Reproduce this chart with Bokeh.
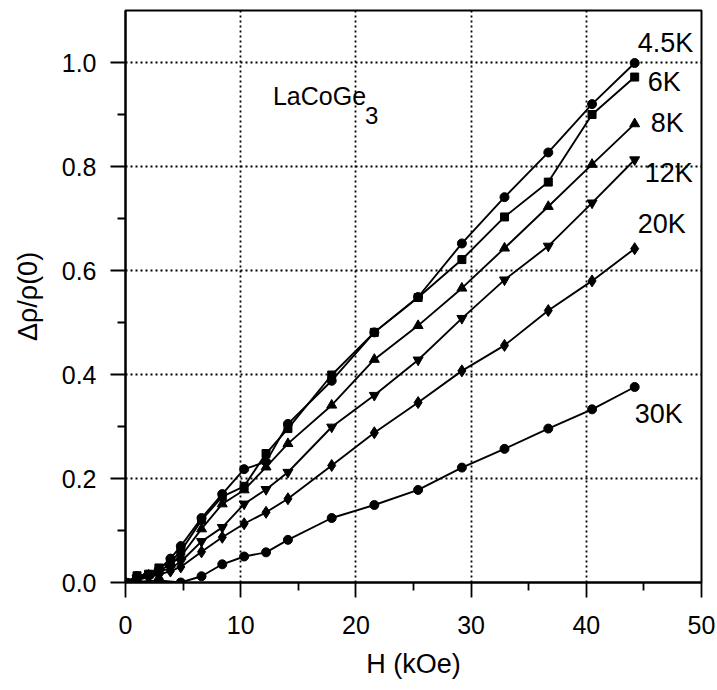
from bokeh.plotting import figure
from bokeh.models import Range1d, Label, FixedTicker, NumeralTickFormatter
from bokeh.embed import file_html
from bokeh.resources import INLINE

# ---- data ----
H = [0, 1.0, 2.0, 2.9, 3.9, 4.8, 6.6, 8.4, 10.3, 12.2, 14.1, 17.9, 21.6, 25.4, 29.2, 32.9, 36.7, 40.5, 44.2]
r_4p5K = [0, 0.012, 0.015, 0.025, 0.046, 0.070, 0.124, 0.170, 0.218, 0.232, 0.305, 0.388, 0.481, 0.549, 0.652, 0.741, 0.827, 0.920, 0.999]
r_6K = [0, 0.013, 0.016, 0.028, 0.040, 0.060, 0.120, 0.165, 0.185, 0.248, 0.296, 0.399, 0.481, 0.548, 0.621, 0.703, 0.770, 0.900, 0.972]
r_8K = [0, 0.010, 0.014, 0.022, 0.035, 0.050, 0.103, 0.151, 0.178, 0.222, 0.267, 0.341, 0.429, 0.494, 0.566, 0.643, 0.723, 0.804, 0.882]
r_12K = [0, 0.008, 0.012, 0.020, 0.028, 0.040, 0.079, 0.106, 0.151, 0.179, 0.212, 0.299, 0.360, 0.428, 0.508, 0.582, 0.647, 0.730, 0.813]
r_20K = [0, 0.005, 0.010, 0.015, 0.022, 0.030, 0.059, 0.087, 0.113, 0.135, 0.161, 0.225, 0.288, 0.346, 0.407, 0.456, 0.523, 0.580, 0.642]
H_30K = [0, 2.9, 4.8, 6.6, 8.4, 10.3, 12.2, 14.1, 17.9, 21.6, 25.4, 29.2, 32.9, 36.7, 40.5, 44.2]
r_30K = [0, 0.004, 0.0, 0.012, 0.035, 0.050, 0.058, 0.082, 0.124, 0.149, 0.178, 0.221, 0.257, 0.296, 0.333, 0.376]

series_labels = ["4.5K", "6K", "8K", "12K", "20K", "30K"]
x_ticks = [0, 10, 20, 30, 40, 50]
y_ticks = [0.0, 0.2, 0.4, 0.6, 0.8, 1.0]

FONT = "Liberation Sans"

p = figure(width=717, height=690, output_backend="svg", toolbar_location=None,
           x_range=Range1d(0, 50), y_range=Range1d(0, 1.1),
           min_border_left=125, min_border_right=16, min_border_top=10, min_border_bottom=108,
           x_axis_label="H (kOe)", y_axis_label="Δρ/ρ(0)")
p.background_fill_color = "white"
p.border_fill_color = "white"
p.outline_line_color = "black"
p.outline_line_width = 2

# grid
p.xgrid.ticker = FixedTicker(ticks=[10, 20, 30, 40])
p.ygrid.ticker = FixedTicker(ticks=[0.2, 0.4, 0.6, 0.8, 1.0])
for g in (p.xgrid, p.ygrid):
    g.grid_line_color = "black"
    g.grid_line_dash = "2 3"
    g.grid_line_width = 1.8

# axes
p.xaxis.ticker = FixedTicker(ticks=x_ticks, minor_ticks=[5, 15, 25, 35, 45])
p.yaxis.ticker = FixedTicker(ticks=y_ticks, minor_ticks=[0.1, 0.3, 0.5, 0.7, 0.9])
p.yaxis.formatter = NumeralTickFormatter(format="0.0")
for ax in (p.xaxis, p.yaxis):
    ax.axis_line_color = "black"
    ax.axis_line_width = 2
    ax.major_tick_line_color = "black"
    ax.minor_tick_line_color = "black"
    ax.major_tick_line_width = 1.8
    ax.minor_tick_line_width = 1.8
    ax.major_tick_in = 0
    ax.major_tick_out = 15
    ax.minor_tick_in = 0
    ax.minor_tick_out = 8
    ax.major_label_text_font = FONT
    ax.major_label_text_font_size = "25px"
    ax.major_label_text_color = "black"
    ax.axis_label_text_font = FONT
    ax.axis_label_text_font_size = "27px"
    ax.axis_label_text_font_style = "normal"
    ax.axis_label_text_color = "black"
p.xaxis.major_label_standoff = 18
p.xaxis.axis_label_standoff = 12
p.yaxis.major_label_standoff = 14
p.yaxis.axis_label_standoff = 16

series = [
    (H, r_4p5K, "circle", 9),
    (H, r_6K, "square", 8),
    (H, r_8K, "triangle", 10),
    (H, r_12K, "inverted_triangle", 10),
    (H, r_20K, "diamond", 12),
    (H_30K, r_30K, "circle", 9),
]
for xs, ys, m, s in series:
    p.line(xs, ys, line_color="black", line_width=1.9)
    p.scatter(xs, ys, marker=m, size=s, fill_color="black", line_color="black")

# series labels, anchored at the last point of each curve
offsets = [(3, 20), (13, -5), (16, 1), (10, -13), (3, 25), (0, -27)]
for (xs, ys, m, s), name, (dx, dy) in zip(series, series_labels, offsets):
    p.add_layout(Label(x=xs[-1], y=ys[-1], x_offset=dx, y_offset=dy, text=name,
                       text_font=FONT, text_font_size="27px", text_color="black",
                       text_baseline="middle", text_align="left"))

# compound label
p.add_layout(Label(x=12.8, y=0.936, text="LaCoGe", text_font=FONT, text_font_size="25px",
                   text_baseline="middle", text_align="left", text_color="black"))
p.add_layout(Label(x=12.8, y=0.936, x_offset=92, y_offset=-20, text="3", text_font=FONT,
                   text_font_size="24px", text_baseline="middle", text_align="left",
                   text_color="black"))

open("out.html", "w").write(file_html(p, INLINE))
